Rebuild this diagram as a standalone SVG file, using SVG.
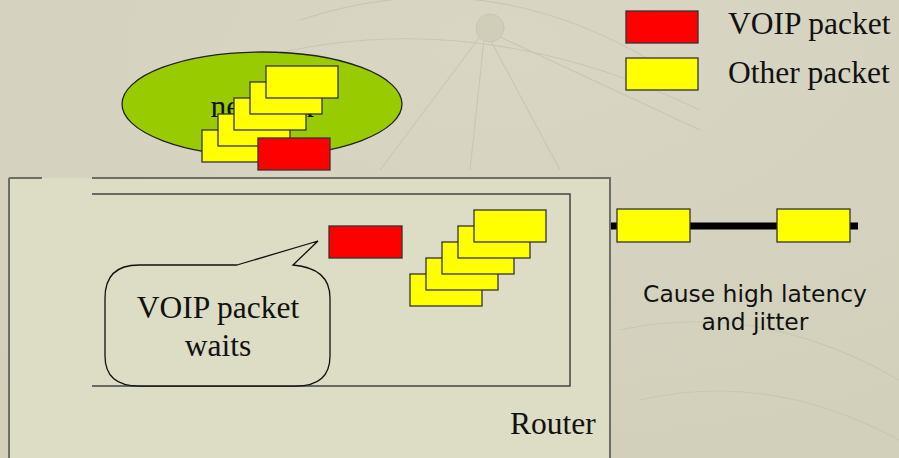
<svg xmlns="http://www.w3.org/2000/svg" width="899" height="458" viewBox="0 0 899 458">
<defs>
<style>
.pkt{stroke:#333;stroke-width:1.3}
.y{fill:#ffff00}
.r{fill:#ff0000}
.serif{font-family:"Liberation Serif","Times New Roman",serif;font-size:31.5px;fill:#111}
.sans{font-family:"DejaVu Sans",Verdana,sans-serif;font-size:23.4px;fill:#111}
.deco{fill:none;stroke:#c9c7b3;stroke-width:1.1}
</style>
<radialGradient id="bg" cx="0.55" cy="0.1" r="0.9">
<stop offset="0" stop-color="#d9d7c4"/>
<stop offset="1" stop-color="#d2d0bb"/>
</radialGradient>
</defs>
<rect width="899" height="458" fill="url(#bg)"/>
<g id="background-decor">
<path class="deco" d="M485 30 L380 170 M485 30 L560 170 M485 30 L470 170 M485 30 L700 130"/>
<path class="deco" d="M300 20 Q480 -40 650 60 M250 60 Q470 0 700 110 M620 330 Q760 300 899 380 M640 400 Q770 370 899 440"/>
<circle cx="490" cy="28" r="14" fill="#d0ceb9" stroke="#c9c7b3"/>
</g>
<g id="connectors">
<line x1="610" y1="226" x2="858" y2="226" stroke="#000" stroke-width="7"/>
</g>
<g id="router">
<rect x="9" y="178" width="601" height="300" fill="#dddcc5" stroke="none"/>
<path d="M9 178 L42 178 M92 178 L610 178 L610 470 M9 178 L9 470" fill="none" stroke="#6e6e66" stroke-width="2"/>
<path d="M92 194 L570 194 L570 386 L92 386" fill="none" stroke="#444" stroke-width="1.5"/>
<text class="serif" x="510" y="434">Router</text>
</g>
<g id="network">
<ellipse cx="262" cy="104" rx="140" ry="52" fill="#99cc00" stroke="#222" stroke-width="1.3"/>
<text class="serif" x="262" y="117" text-anchor="middle">network</text>
<rect class="pkt y" x="202" y="130" width="72" height="32"/>
<rect class="pkt y" x="218" y="114" width="72" height="32"/>
<rect class="pkt y" x="234" y="98" width="72" height="32"/>
<rect class="pkt y" x="250" y="82" width="72" height="32"/>
<rect class="pkt y" x="266" y="66" width="72" height="32"/>
<rect class="pkt r" x="258" y="138" width="72" height="32"/>
</g>
<g id="router-queue">
<rect class="pkt y" x="410" y="274" width="72" height="32"/>
<rect class="pkt y" x="426" y="258" width="72" height="32"/>
<rect class="pkt y" x="442" y="242" width="72" height="32"/>
<rect class="pkt y" x="458" y="226" width="72" height="32"/>
<rect class="pkt y" x="474" y="210" width="72" height="32"/>
</g>
<g id="voip-in-router">
<rect class="pkt r" x="329" y="226" width="73" height="32"/>
</g>
<g id="link-packets">
<rect class="pkt y" x="617" y="209" width="73" height="33"/>
<rect class="pkt y" x="777" y="209" width="73" height="33"/>
</g>
<g id="speech-bubble">
<path d="M237 265 L318 241 L293 265 Q330 268 330 298 L330 356 Q330 386 296 386 L139 386 Q105 386 105 356 L105 298 Q105 265 139 265 Z" fill="#dddcc5" stroke="#111" stroke-width="1.3"/>
<text class="serif" x="218" y="318" text-anchor="middle">VOIP packet</text>
<text class="serif" x="218" y="356" text-anchor="middle">waits</text>
</g>
<g id="caption">
<text class="sans" x="755" y="302" text-anchor="middle">Cause high latency</text>
<text class="sans" x="755" y="330" text-anchor="middle">and jitter</text>
</g>
<g id="legend">
<rect class="pkt r" x="626" y="11" width="72" height="32"/>
<text class="serif" x="728" y="34">VOIP packet</text>
<rect class="pkt y" x="626" y="58" width="72" height="32"/>
<text class="serif" x="728" y="83">Other packet</text>
</g>
</svg>
